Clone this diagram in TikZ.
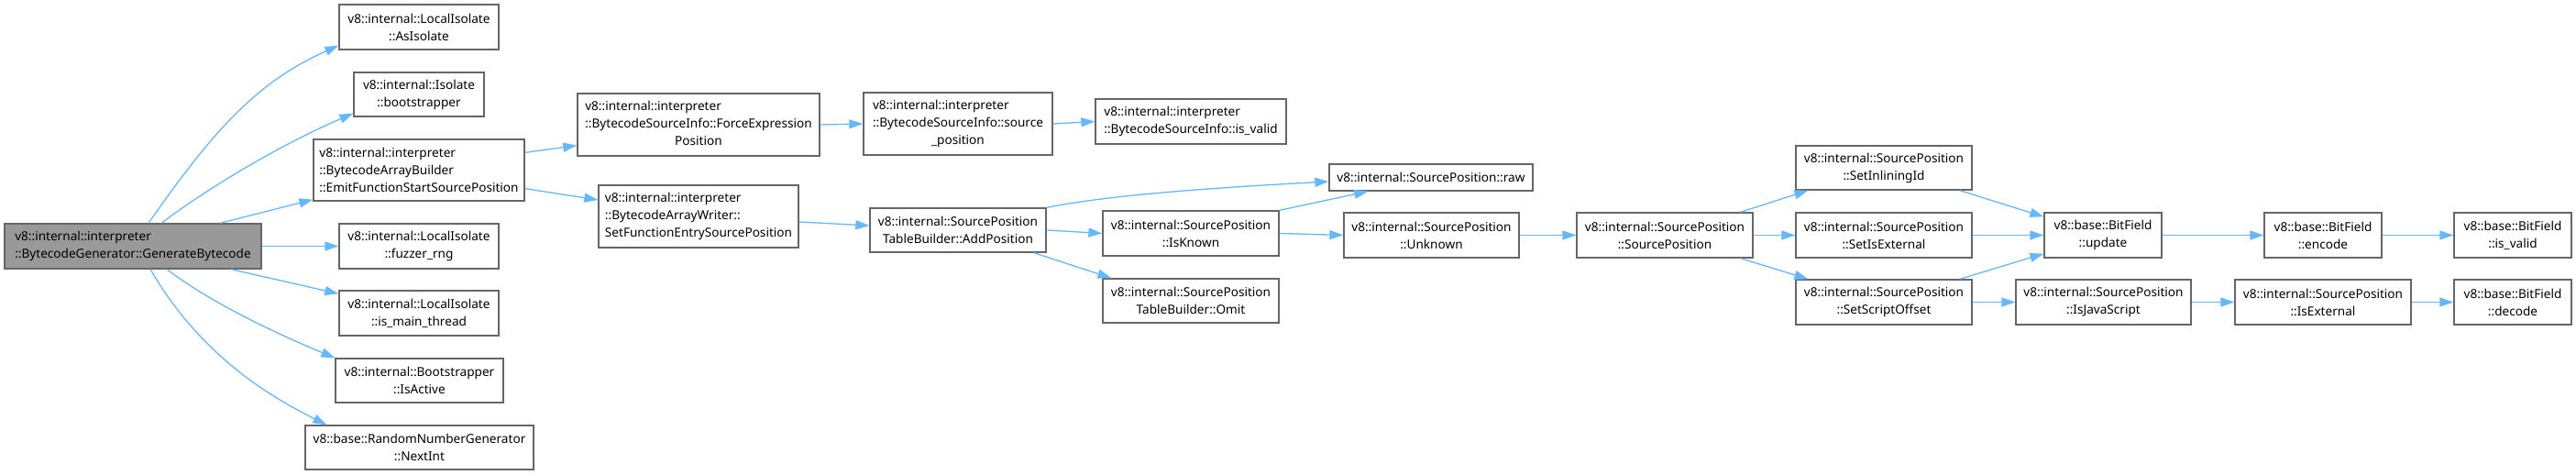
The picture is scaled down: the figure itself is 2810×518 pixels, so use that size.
\documentclass[tikz,border=0pt]{standalone}
\usepackage{fontspec}
\setmainfont{Noto Sans}
\usetikzlibrary{arrows.meta}

\definecolor{nodeline}{HTML}{666666}
\definecolor{rootfill}{HTML}{999999}
\definecolor{edgeblue}{HTML}{63B8FF}

\begin{document}
\begin{tikzpicture}[
    x=1pt, y=-1pt, % one unit per pixel, y grows downwards
    >={Triangle[length=15pt, width=10pt]}, % Set default arrow tip style
    fn/.style={draw=nodeline, fill=white, line width=1.3pt, inner sep=0pt,
        font=\fontsize{13.6}{19}\selectfont, align=center, minimum height=49pt}, % Style for function boxes
    root/.style={fn, fill=rootfill, align=left}, % Style for the caller
    tall/.style={minimum height=68pt}, % Three-line boxes
    call/.style={->, draw=edgeblue, line width=1.3pt} % Style for calls
]
    \useasboundingbox (0,0) rectangle (2810,518);

    % --- Caller ---
    \node[root, minimum width=280pt] (gen) at (145,268.5) {v8::internal::interpreter\\::BytecodeGenerator::GenerateBytecode};

    % --- First column ---
    \node[fn, minimum width=174pt] (asiso) at (457,29.5) {v8::internal::LocalIsolate\\::AsIsolate};
    \node[fn, minimum width=142pt, minimum height=48pt] (boot) at (457,103) {v8::internal::Isolate\\::bootstrapper};
    \node[fn, align=left, minimum width=230pt, minimum height=67pt] (emit) at (457,185.5) {v8::internal::interpreter\\::BytecodeArrayBuilder\\::EmitFunctionStartSourcePosition};
    \node[fn, minimum width=174pt] (fuzz) at (457,268.5) {v8::internal::LocalIsolate\\::fuzzer\_rng};
    \node[fn, minimum width=174pt] (mainthr) at (457,341.5) {v8::internal::LocalIsolate\\::is\_main\_thread};
    \node[fn, minimum width=183pt, minimum height=48pt] (active) at (457.5,415) {v8::internal::Bootstrapper\\::IsActive};
    \node[fn, minimum width=249pt, minimum height=48pt] (nextint) at (457.5,488) {v8::base::RandomNumberGenerator\\::NextInt};

    % --- Second and third column ---
    \node[fn, tall, minimum width=264pt] (force) at (762,136) {\begin{tabular}{@{}l@{}}v8::internal::interpreter\\::BytecodeSourceInfo::ForceExpression\\\multicolumn{1}{@{}c@{}}{Position}\end{tabular}};
    \node[fn, tall, align=left, minimum width=218pt] (entry) at (762,236) {v8::internal::interpreter\\::BytecodeArrayWriter::\\SetFunctionEntrySourcePosition};
    \node[fn, tall, minimum width=206pt] (srcpos) at (1045,135) {\begin{tabular}{@{}l@{}}v8::internal::interpreter\\::BytecodeSourceInfo::source\\\multicolumn{1}{@{}c@{}}{\_position}\end{tabular}};
    \node[fn, minimum width=192pt, minimum height=48pt] (addpos) at (1045,251) {v8::internal::SourcePosition\\TableBuilder::AddPosition};

    % --- Fourth and fifth column ---
    \node[fn, align=left, minimum width=208pt] (bsivalid) at (1299,132.5) {v8::internal::interpreter\\::BytecodeSourceInfo::is\_valid};
    \node[fn, minimum width=192pt] (isknown) at (1299,254.5) {v8::internal::SourcePosition\\::IsKnown};
    \node[fn, minimum width=192pt, minimum height=48pt] (omit) at (1299,328) {v8::internal::SourcePosition\\TableBuilder::Omit};
    \node[fn, minimum width=222pt, minimum height=29pt] (raw) at (1561,193.5) {v8::internal::SourcePosition::raw};
    \node[fn, minimum width=191pt] (unknown) at (1561.5,256.5) {v8::internal::SourcePosition\\::Unknown};

    % --- SourcePosition setters ---
    \node[fn, minimum width=192pt] (ctor) at (1816,256.5) {v8::internal::SourcePosition\\::SourcePosition};
    \node[fn, minimum width=192pt, minimum height=48pt] (inlining) at (2055,183) {v8::internal::SourcePosition\\::SetInliningId};
    \node[fn, minimum width=192pt] (setext) at (2055,256.5) {v8::internal::SourcePosition\\::SetIsExternal};
    \node[fn, minimum width=192pt] (scriptoff) at (2055,329.5) {v8::internal::SourcePosition\\::SetScriptOffset};

    % --- BitField helpers ---
    \node[fn, minimum width=128pt] (update) at (2294,256.5) {v8::base::BitField\\::update};
    \node[fn, minimum width=191pt] (isjs) at (2294.5,329.5) {v8::internal::SourcePosition\\::IsJavaScript};
    \node[fn, minimum width=128pt] (encode) at (2534,256.5) {v8::base::BitField\\::encode};
    \node[fn, minimum width=192pt] (isext) at (2534,329.5) {v8::internal::SourcePosition\\::IsExternal};
    \node[fn, minimum width=128pt] (bfvalid) at (2741,256.5) {v8::base::BitField\\::is\_valid};
    \node[fn, minimum width=128pt] (decode) at (2741,329.5) {v8::base::BitField\\::decode};

    % --- Calls from the caller ---
    \draw[call] ([xshift=17pt]gen.north) .. controls +(70,-100) and +(-90,40) .. ([yshift=5pt]asiso.south west);
    \draw[call] ([xshift=31pt]gen.north) .. controls +(60,-45) and +(-70,30) .. ([yshift=4pt]boot.south west);
    \draw[call] ([xshift=95pt]gen.north) -- ([yshift=2pt]emit.south west);
    \draw[call] (gen.east) -- (fuzz.west);
    \draw[call] ([xshift=107pt]gen.south) -- ([yshift=-4pt]mainthr.north west);
    \draw[call] ([xshift=37pt]gen.south) .. controls +(50,38) and +(-60,-25) .. (active.north west);
    \draw[call] ([xshift=19pt]gen.south) .. controls +(55,95) and +(-60,-30) .. ([xshift=24pt]nextint.north west);

    % --- Bytecode array calls ---
    \draw[call] ([yshift=-15pt]emit.north east) -- ([yshift=12pt]force.south west);
    \draw[call] ([yshift=14pt]emit.south east) -- ([yshift=18pt]entry.west);
    \draw[call] (force.east) -- (srcpos.west);
    \draw[call] (srcpos.east) -- (bsivalid.west);
    \draw[call] ([yshift=-6pt]entry.east) -- ([yshift=5pt]addpos.west);

    % --- Source position table calls ---
    \draw[call] (addpos.north east) .. controls +(60,-12) and +(-150,8) .. ([yshift=-4.5pt]raw.west);
    \draw[call] (addpos.east) -- (isknown.west);
    \draw[call] ([xshift=-14pt]addpos.south east) -- ([xshift=10pt]omit.north west);
    \draw[call] (isknown.north east) -- ([xshift=43pt]raw.south west);
    \draw[call] (isknown.east) -- (unknown.west);
    \draw[call] (unknown.east) -- (ctor.west);

    % --- Setters and bit fields ---
    \draw[call] ([xshift=-14pt]ctor.north east) -- ([xshift=14pt]inlining.south west);
    \draw[call] (ctor.east) -- (setext.west);
    \draw[call] ([xshift=-14pt]ctor.south east) -- ([xshift=14pt]scriptoff.north west);
    \draw[call] ([xshift=-14pt]inlining.south east) -- ([yshift=-5pt]update.north west);
    \draw[call] (setext.east) -- (update.west);
    \draw[call] ([xshift=-14pt]scriptoff.north east) -- ([yshift=5pt]update.south west);
    \draw[call] (scriptoff.east) -- (isjs.west);
    \draw[call] (update.east) -- (encode.west);
    \draw[call] (encode.east) -- (bfvalid.west);
    \draw[call] (isjs.east) -- (isext.west);
    \draw[call] (isext.east) -- (decode.west);
\end{tikzpicture}
\end{document}
